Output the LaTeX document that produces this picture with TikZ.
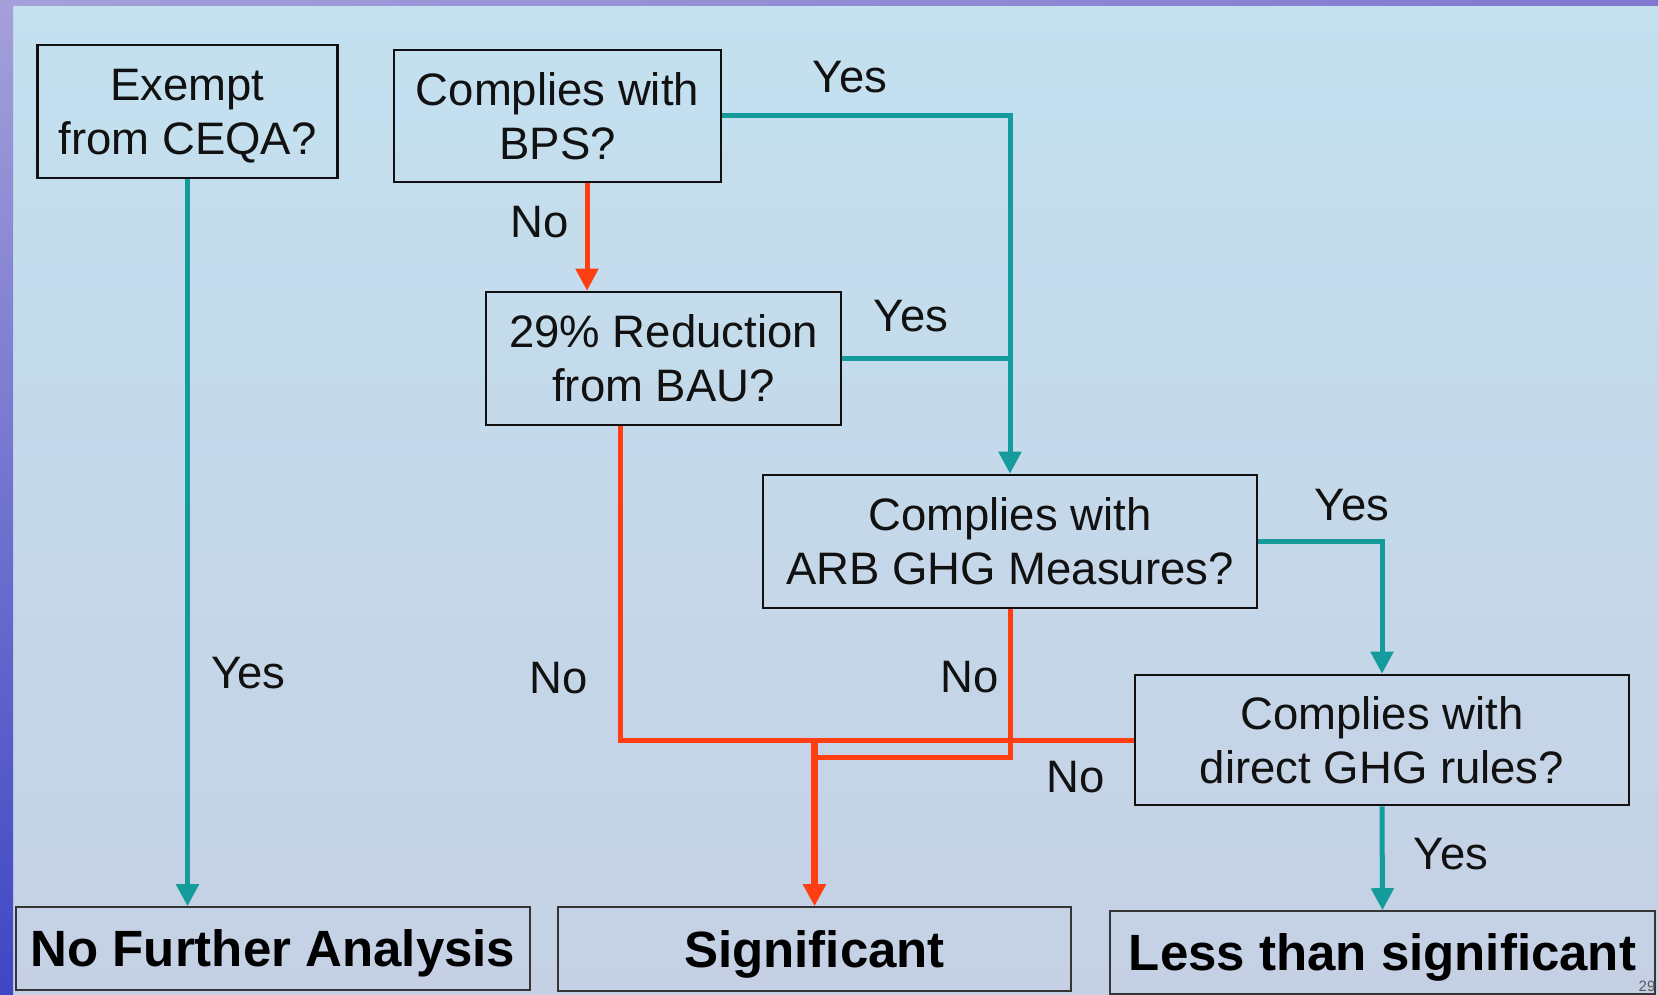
\documentclass[tikz,border=0pt]{standalone}
\usepackage{fontspec}
\setmainfont{Liberation Sans}
\usetikzlibrary{arrows.meta}
\definecolor{bgtop}{RGB}{196,225,240}
\definecolor{bgbot}{RGB}{197,208,228}
\definecolor{stripA}{RGB}{165,160,218}
\definecolor{stripB}{RGB}{62,70,196}
\definecolor{stripC}{RGB}{128,120,208}
\definecolor{yescol}{RGB}{20,156,156}
\definecolor{nocol}{RGB}{255,62,18}
\definecolor{inkcol}{RGB}{17,17,17}
\tikzset{
  qbox/.style={draw=inkcol, line width=2.6pt, align=center, inner sep=0pt,
    text depth=0pt, text=inkcol, font=\fontsize{45.5}{54}\selectfont},
  rbox/.style={draw=inkcol!85, line width=1.6pt, align=center, inner sep=0pt,
    text depth=0pt, text=black, font=\fontsize{51}{60}\selectfont\bfseries},
  lbl/.style={text=inkcol, font=\fontsize{45.5}{54}\selectfont, inner sep=0pt},
  yesline/.style={draw=yescol, line width=5pt},
  noline/.style={draw=nocol, line width=5pt},
  tip/.style={-{Triangle[width=22pt,length=22pt]}}
}
\begin{document}
\begin{tikzpicture}[x=1pt,y=-1pt]
\useasboundingbox (0,0) rectangle (1658,995);
% background
\shade[top color=bgtop, bottom color=bgbot] (0,0) rectangle (1658,995);
\shade[top color=stripA, bottom color=stripB] (0,0) rectangle (13,995);
\shade[left color=stripA, right color=stripC] (0,0) rectangle (1658,6);
% question boxes
\node[qbox, minimum width=300pt, minimum height=133pt] (exempt) at (187.5,111.5) {Exempt\\from CEQA?};
\node[qbox, minimum width=327pt, minimum height=132pt] (bps) at (557.5,116) {Complies with\\BPS?};
\node[qbox, minimum width=355pt, minimum height=133pt] (r29) at (663.5,358.5) {29\% Reduction\\from BAU?};
\node[qbox, minimum width=494pt, minimum height=133pt] (arb) at (1010,541.5) {Complies with\\ARB GHG Measures?};
\node[qbox, minimum width=494pt, minimum height=130pt] (direct) at (1382,740) {Complies with\\direct GHG rules?};
% result boxes
\node[rbox, minimum width=514pt, minimum height=83pt] (nfa) at (273,948.5) {No Further Analysis};
\node[rbox, minimum width=513pt, minimum height=84pt] (sig) at (814.5,949) {Significant};
\node[rbox, minimum width=545pt, minimum height=83pt] (less) at (1382.5,952.5) {Less than significant};
% junction coordinates
\coordinate (bpsno) at ([xshift=29.5pt]bps.south);
\coordinate (r29no) at ([xshift=-43.5pt]r29.south);
\coordinate (merge) at (sig.north |- direct.west);
\coordinate (arbjoin) at (815,757);
% Yes connectors
\draw[yesline, tip] (exempt.south) -- (exempt.south |- nfa.north);
\draw[yesline, tip] (bps.east) -| (arb.north);
\draw[yesline] (r29.east) -- (r29.east -| arb.north);
\draw[yesline, tip] (arb.east) -| (direct.north);
\draw[yesline, tip] (direct.south) -- (less.north);
% No connectors
\draw[noline, tip] (bpsno) -- (bpsno |- r29.north);
\draw[noline] (r29no) |- (direct.west);
\draw[noline] (arb.south) |- (arbjoin);
\draw[noline, line width=6.5pt, tip] (merge) -- (sig.north);
% labels
\node[lbl] (l1) at (248.5,673.5) {Yes};
\node[lbl] (l2) at (850,77) {Yes};
\node[lbl] (l3) at (540,222) {No};
\node[lbl] (l4) at (911,316) {Yes};
\node[lbl] (l5) at (559,678) {No};
\node[lbl] (l6) at (970,677) {No};
\node[lbl] (l7) at (1076,777) {No};
\node[lbl] (l8) at (1352,505) {Yes};
\node[lbl] (l9) at (1451,854) {Yes};
\node[text=inkcol!70, font=\fontsize{15}{17}\selectfont, anchor=north, inner sep=0pt] (pg) at (1647,981) {29};
\end{tikzpicture}
\end{document}
